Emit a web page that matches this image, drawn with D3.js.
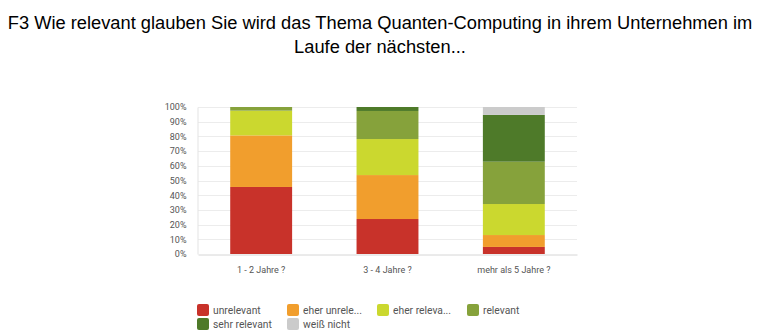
<!DOCTYPE html>
<html>
<head>
<meta charset="utf-8">
<script src="https://cdn.jsdelivr.net/npm/d3@7"></script>
<style>
  body { margin: 0; background: #fff; }
  svg { display: block; }
</style>
</head>
<body>
<div id="chart"></div>
<script>
// answer categories and periods
const periods = ["1 - 2 Jahre ?", "3 - 4 Jahre ?", "mehr als 5 Jahre ?"];
const answers = ["unrelevant", "eher unrelevant", "eher relevant", "relevant", "sehr relevant", "weiß nicht"];
const legendLabels = ["unrelevant", "eher unrele...", "eher releva...", "relevant", "sehr relevant", "weiß nicht"];
const colors = ["#c8322a", "#f19e2d", "#cbd82f", "#86a23b", "#4e7a29", "#cbcbcb"];

// share of answers per period (percent)
const unrelevant     = [45.6, 23.8, 4.8];
const eherUnrelevant = [35.1, 29.9, 8.1];
const eherRelevant   = [16.8, 24.5, 21.1];
const relevant       = [2.5, 19.1, 28.8];
const sehrRelevant   = [0, 2.7, 31.8];
const weissNicht     = [0, 0, 5.4];
const yTicks = [0, 10, 20, 30, 40, 50, 60, 70, 80, 90, 100];

const series = [unrelevant, eherUnrelevant, eherRelevant, relevant, sehrRelevant, weissNicht];
const rows = periods.map((p, i) => {
  const r = { period: p };
  answers.forEach((a, k) => r[a] = series[k][i]);
  return r;
});

const width = 760, height = 335;
const plot = { left: 198, right: 577, top: 107, bottom: 254 };
const labelFont = "Roboto, 'Noto Sans', sans-serif";

const svg = d3.select("#chart").append("svg")
  .attr("width", width)
  .attr("height", height);

// title, two centred lines
const title = svg.append("text")
  .attr("text-anchor", "middle")
  .style("font-family", "'Liberation Sans', Arial, sans-serif")
  .style("font-size", "18.3px")
  .attr("fill", "#000");
title.append("tspan").attr("x", width / 2).attr("y", 29)
  .text("F3 Wie relevant glauben Sie wird das Thema Quanten-Computing in ihrem Unternehmen im");
title.append("tspan").attr("x", width / 2).attr("y", 53)
  .text("Laufe der nächsten...");

const x = d3.scaleBand()
  .domain(periods)
  .range([plot.left, plot.right])
  .paddingInner(0.51)
  .paddingOuter(0.255);

const y = d3.scaleLinear()
  .domain([0, 100])
  .range([plot.bottom, plot.top]);

// grid lines
svg.append("g")
  .selectAll("line")
  .data(yTicks.filter(d => d > 0))
  .join("line")
  .attr("x1", plot.left)
  .attr("x2", plot.right)
  .attr("y1", d => Math.round(y(d)) + 0.5)
  .attr("y2", d => Math.round(y(d)) + 0.5)
  .attr("stroke", "#ececec")
  .attr("stroke-width", 1);

// y axis
const yAxis = svg.append("g")
  .attr("transform", `translate(${plot.left - 0.5},0)`)
  .call(d3.axisLeft(y).tickValues(yTicks).tickFormat(d => d + "%").tickSize(0).tickPadding(11));
yAxis.select(".domain").attr("stroke", "#e3e3e3");
yAxis.selectAll("text")
  .style("font-family", labelFont)
  .style("font-size", "9px")
  .attr("fill", "#555");

// stacked bars
const stack = d3.stack().keys(answers)(rows);
svg.append("g")
  .selectAll("g")
  .data(stack)
  .join("g")
  .attr("fill", (d, i) => colors[i])
  .selectAll("rect")
  .data(d => d)
  .join("rect")
  .attr("x", d => x(d.data.period))
  .attr("y", d => y(d[1]))
  .attr("width", x.bandwidth())
  .attr("height", d => y(d[0]) - y(d[1]));

// x axis
const xAxis = svg.append("g")
  .attr("transform", `translate(0,${plot.bottom + 0.5})`)
  .call(d3.axisBottom(x).tickSize(0).tickPadding(12));
xAxis.select(".domain").attr("stroke", "#d6d6d6");
xAxis.selectAll("text")
  .style("font-family", labelFont)
  .style("font-size", "9px")
  .attr("fill", "#555");

// legend, four entries per row
const legend = svg.append("g")
  .selectAll("g")
  .data(legendLabels)
  .join("g")
  .attr("transform", (d, i) => `translate(${197 + (i % 4) * 90},${304 + Math.floor(i / 4) * 14})`);
legend.append("rect")
  .attr("width", 12)
  .attr("height", 12)
  .attr("rx", 2)
  .attr("fill", (d, i) => colors[i]);
legend.append("text")
  .attr("x", 16)
  .attr("y", 9.5)
  .text(d => d)
  .style("font-family", labelFont)
  .style("font-size", "10.3px")
  .attr("fill", "#555");
</script>
</body>
</html>
